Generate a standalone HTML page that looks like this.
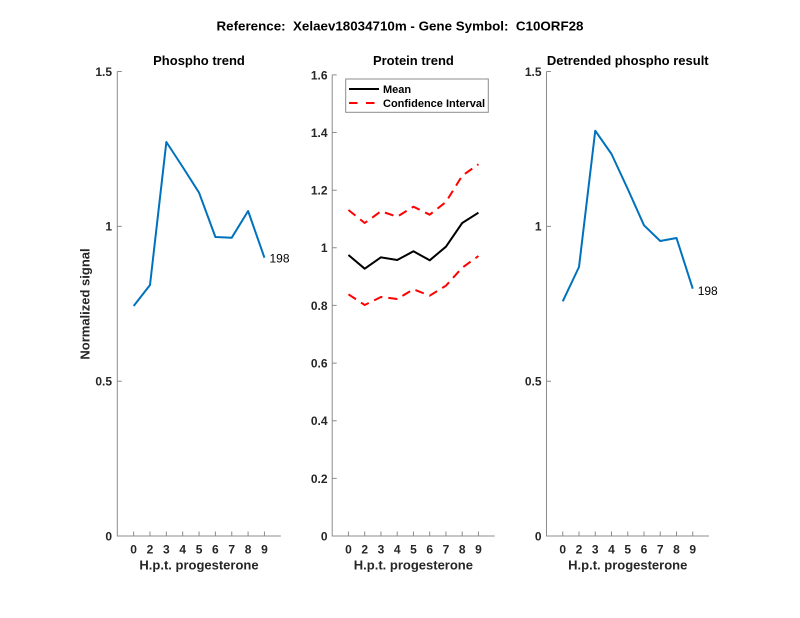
<!DOCTYPE html>
<html><head><meta charset="utf-8"><style>
html,body{margin:0;padding:0;background:#fff;}
svg{display:block;}
text{font-family:"Liberation Sans",Arial,sans-serif;}
</style></head><body>
<svg width="800" height="618" viewBox="0 0 800 618" xmlns="http://www.w3.org/2000/svg">
<rect width="800" height="618" fill="#fff"/>
<!-- main title -->
<text x="400" y="30.5" text-anchor="middle" font-size="13" font-weight="bold" fill="#000" textLength="367" lengthAdjust="spacingAndGlyphs" xml:space="preserve">Reference:  Xelaev18034710m - Gene Symbol:  C10ORF28</text>

<!-- LEFT PANEL -->
<g stroke="#8c8c8c" stroke-width="1" fill="none">
<path d="M117.3,71.5 V536 H280.8"/>
<path d="M117.3,71.5 h4.5 M117.3,226.4 h4.5 M117.3,381.2 h4.5"/>
<path d="M133.65,536 v-4.5 M150,536 v-4.5 M166.35,536 v-4.5 M182.7,536 v-4.5 M199.05,536 v-4.5 M215.4,536 v-4.5 M231.75,536 v-4.5 M248.1,536 v-4.5 M264.45,536 v-4.5"/>
</g>
<g font-size="12" font-weight="bold" fill="#262626" text-anchor="end">
<text x="112" y="540.5">0</text>
<text x="112" y="385.5">0.5</text>
<text x="112" y="230.5">1</text>
<text x="112" y="76">1.5</text>
</g>
<g font-size="12" font-weight="bold" fill="#262626" text-anchor="middle">
<text x="133.65" y="553.5">0</text><text x="150" y="553.5">2</text><text x="166.35" y="553.5">3</text><text x="182.7" y="553.5">4</text><text x="199.05" y="553.5">5</text><text x="215.4" y="553.5">6</text><text x="231.75" y="553.5">7</text><text x="248.1" y="553.5">8</text><text x="264.45" y="553.5">9</text>
</g>
<text x="199" y="569.5" text-anchor="middle" font-size="13" font-weight="bold" fill="#262626">H.p.t. progesterone</text>
<text x="199" y="65" text-anchor="middle" font-size="13" font-weight="bold" fill="#000">Phospho trend</text>
<text transform="translate(89.5,304) rotate(-90)" text-anchor="middle" font-size="13" font-weight="bold" fill="#262626">Normalized signal</text>
<polyline fill="none" stroke="#0072BD" stroke-width="2" stroke-linejoin="round" points="133.65,306 150,285 166.35,142 182.7,167 199.05,192.7 215.4,237 231.75,237.7 248.1,211 264.45,257.7"/>
<text x="269.5" y="262.5" font-size="12" fill="#000">198</text>

<!-- MIDDLE PANEL -->
<g stroke="#8c8c8c" stroke-width="1" fill="none">
<path d="M332.2,74.9 V536 H494.7"/>
<path d="M332.2,74.9 h4.5 M332.2,132.5 h4.5 M332.2,190.2 h4.5 M332.2,247.8 h4.5 M332.2,305.4 h4.5 M332.2,363.1 h4.5 M332.2,420.7 h4.5 M332.2,478.4 h4.5"/>
<path d="M348.45,536 v-4.5 M364.7,536 v-4.5 M380.95,536 v-4.5 M397.2,536 v-4.5 M413.45,536 v-4.5 M429.7,536 v-4.5 M445.95,536 v-4.5 M462.2,536 v-4.5 M478.45,536 v-4.5"/>
</g>
<g font-size="12" font-weight="bold" fill="#262626" text-anchor="end">
<text x="327.5" y="540.5">0</text>
<text x="327.5" y="482.8">0.2</text>
<text x="327.5" y="425.1">0.4</text>
<text x="327.5" y="367.5">0.6</text>
<text x="327.5" y="309.8">0.8</text>
<text x="327.5" y="252.2">1</text>
<text x="327.5" y="194.6">1.2</text>
<text x="327.5" y="136.9">1.4</text>
<text x="327.5" y="79.3">1.6</text>
</g>
<g font-size="12" font-weight="bold" fill="#262626" text-anchor="middle">
<text x="348.45" y="553.5">0</text><text x="364.7" y="553.5">2</text><text x="380.95" y="553.5">3</text><text x="397.2" y="553.5">4</text><text x="413.45" y="553.5">5</text><text x="429.7" y="553.5">6</text><text x="445.95" y="553.5">7</text><text x="462.2" y="553.5">8</text><text x="478.45" y="553.5">9</text>
</g>
<text x="413.4" y="569.5" text-anchor="middle" font-size="13" font-weight="bold" fill="#262626">H.p.t. progesterone</text>
<text x="413.4" y="65" text-anchor="middle" font-size="13" font-weight="bold" fill="#000">Protein trend</text>
<polyline fill="none" stroke="#ff0000" stroke-width="2" stroke-dasharray="9,6" stroke-linejoin="round" points="348.45,210 364.7,223 380.95,211.3 397.2,216.7 413.45,206.7 429.7,214.7 445.95,202 462.2,175.7 478.45,164.3"/>
<polyline fill="none" stroke="#ff0000" stroke-width="2" stroke-dasharray="9,6" stroke-linejoin="round" points="348.45,294.3 364.7,305 380.95,297 397.2,299 413.45,289.3 429.7,295.7 445.95,285.7 462.2,267.7 478.45,256"/>
<polyline fill="none" stroke="#000" stroke-width="2" stroke-linejoin="round" points="348.45,255 364.7,268.7 380.95,257.3 397.2,260 413.45,251.3 429.7,260.3 445.95,246.7 462.2,223 478.45,212.7"/>
<!-- legend -->
<rect x="345.7" y="79" width="142.6" height="33.3" fill="#fff" stroke="#8c8c8c" stroke-width="1"/>
<line x1="349" y1="89" x2="379" y2="89" stroke="#000" stroke-width="2"/>
<line x1="349" y1="103" x2="379" y2="103" stroke="#ff0000" stroke-width="2" stroke-dasharray="8.5,8.5"/>
<text x="383" y="93" font-size="11" font-weight="bold" fill="#000">Mean</text>
<text x="383" y="107" font-size="11" font-weight="bold" fill="#000">Confidence Interval</text>

<!-- RIGHT PANEL -->
<g stroke="#8c8c8c" stroke-width="1" fill="none">
<path d="M546.5,71.5 V536 H709"/>
<path d="M546.5,71.5 h4.5 M546.5,226.4 h4.5 M546.5,381.2 h4.5"/>
<path d="M562.75,536 v-4.5 M579,536 v-4.5 M595.25,536 v-4.5 M611.5,536 v-4.5 M627.75,536 v-4.5 M644,536 v-4.5 M660.25,536 v-4.5 M676.5,536 v-4.5 M692.75,536 v-4.5"/>
</g>
<g font-size="12" font-weight="bold" fill="#262626" text-anchor="end">
<text x="541.5" y="540.5">0</text>
<text x="541.5" y="385.5">0.5</text>
<text x="541.5" y="230.5">1</text>
<text x="541.5" y="76">1.5</text>
</g>
<g font-size="12" font-weight="bold" fill="#262626" text-anchor="middle">
<text x="562.75" y="553.5">0</text><text x="579" y="553.5">2</text><text x="595.25" y="553.5">3</text><text x="611.5" y="553.5">4</text><text x="627.75" y="553.5">5</text><text x="644" y="553.5">6</text><text x="660.25" y="553.5">7</text><text x="676.5" y="553.5">8</text><text x="692.75" y="553.5">9</text>
</g>
<text x="627.75" y="569.5" text-anchor="middle" font-size="13" font-weight="bold" fill="#262626">H.p.t. progesterone</text>
<text x="627.75" y="65" text-anchor="middle" font-size="13" font-weight="bold" fill="#000">Detrended phospho result</text>
<polyline fill="none" stroke="#0072BD" stroke-width="2" stroke-linejoin="round" points="562.75,301.3 579,267 595.25,130.7 611.5,154 627.75,189 644,225.3 660.25,241 676.5,238 692.75,288.7"/>
<text x="697.7" y="295" font-size="12" fill="#000">198</text>
</svg>
</body></html>
